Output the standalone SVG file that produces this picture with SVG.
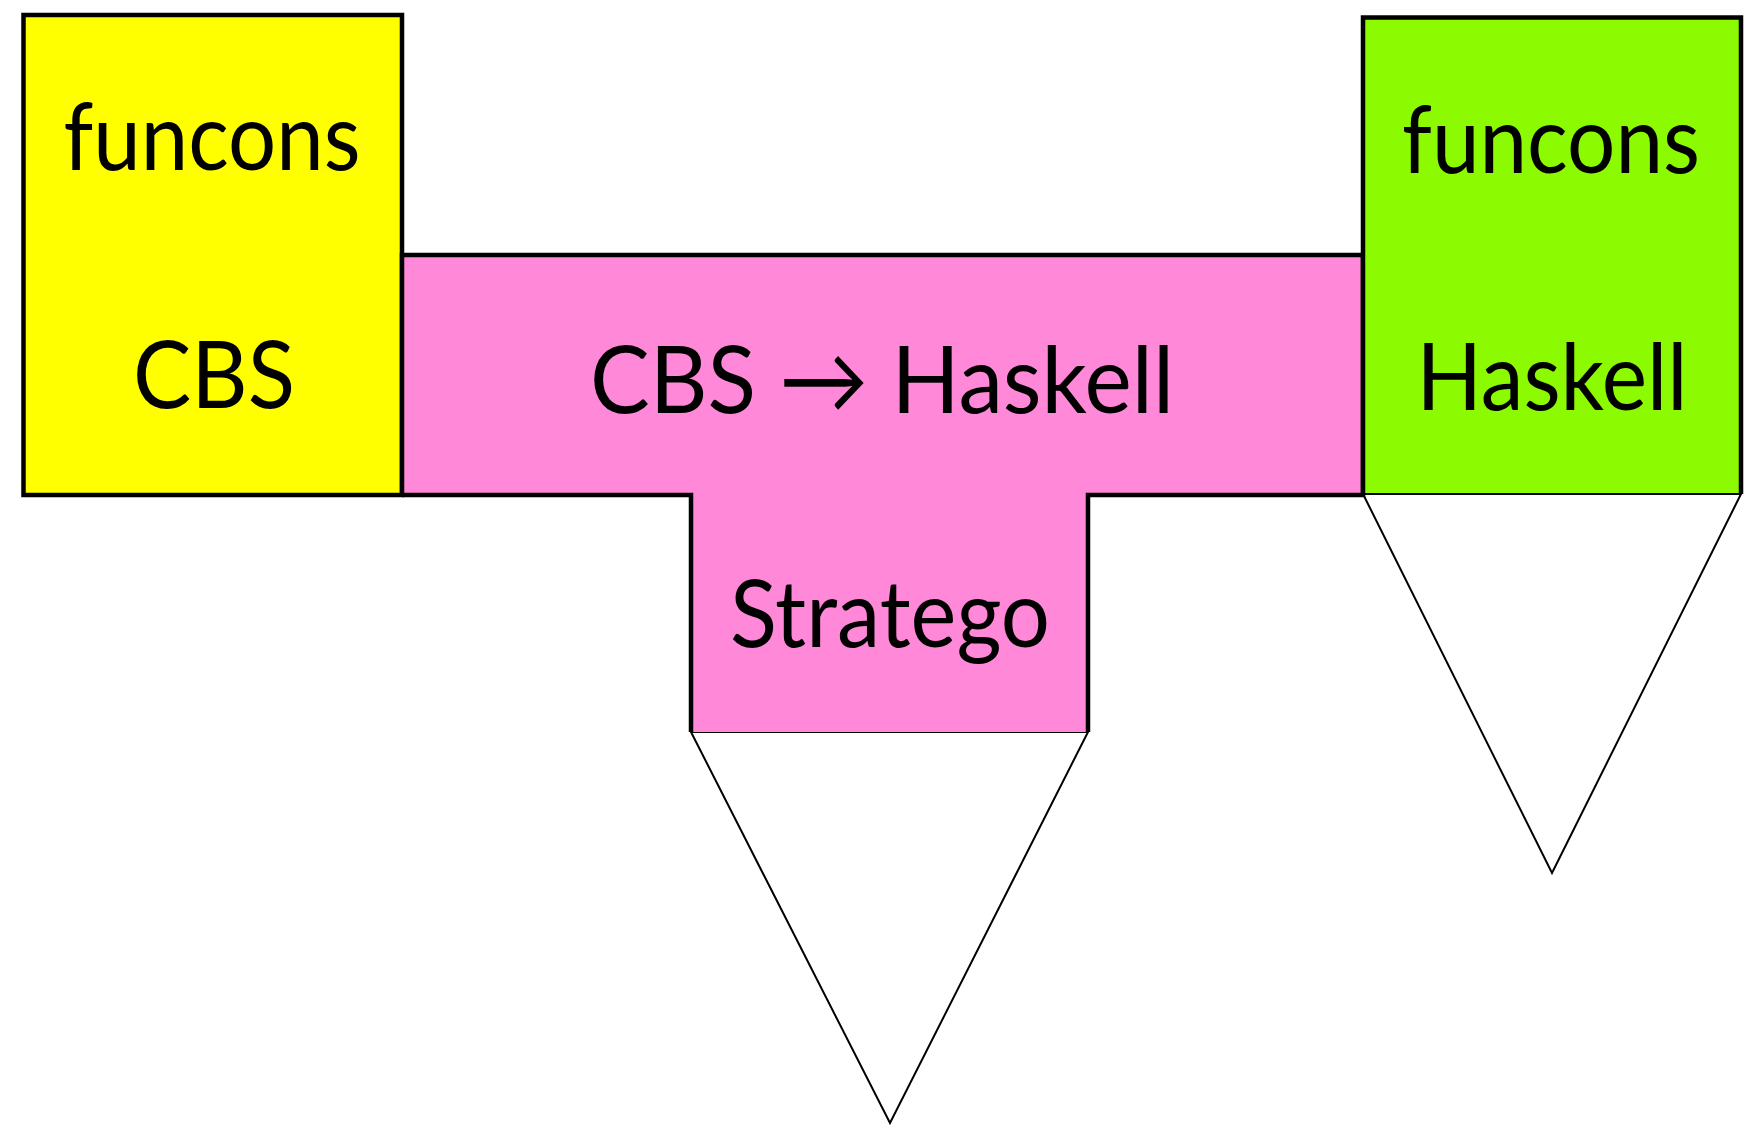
<svg xmlns="http://www.w3.org/2000/svg" width="1758" height="1125" viewBox="0 0 1758 1125">
<style>
.lbl{font-family:"Lato","Open Sans","DejaVu Sans",sans-serif;font-size:94px;fill:#000;text-anchor:middle}
.box{stroke:#000;stroke-width:4.5;stroke-linejoin:miter}
.tri{fill:#fff;stroke:#000;stroke-width:2}
</style>
<rect width="1758" height="1125" fill="#fff"/>
<g id="connectors">
<polygon class="tri" points="691,732 1088,732 890,1123"/>
<polygon class="tri" points="1363,494 1741,494 1552,873"/>
</g>
<g id="yellow">
<rect class="box" x="23.5" y="15" width="378.5" height="480" fill="#ffff00"/>
<text class="lbl" x="212" y="170" textLength="297" lengthAdjust="spacingAndGlyphs">funcons</text>
<text class="lbl" x="214" y="408" textLength="162" lengthAdjust="spacingAndGlyphs">CBS</text>
</g>
<g id="pink">
<path d="M402,495 L402,255 L1363,255 L1363,495 L1088,495 L1088,732 L691,732 L691,495 Z" fill="#ff88d8" stroke="none"/>
<path class="box" fill="none" d="M402,495 L402,255 L1363,255 L1363,495 L1088,495 L1088,732 M691,732 L691,495 L402,495"/>
<text class="lbl" x="882" y="413" textLength="584" lengthAdjust="spacingAndGlyphs">CBS → Haskell</text>
<text class="lbl" x="890" y="647" textLength="320" lengthAdjust="spacingAndGlyphs">Stratego</text>
</g>
<g id="green">
<path d="M1363,494 L1363,17.5 L1741,17.5 L1741,494 Z" fill="#8cfa00" stroke="none"/>
<path class="box" fill="none" d="M1363,494 L1363,17.5 L1741,17.5 L1741,494"/>
<line x1="1363" y1="494" x2="1741" y2="494" stroke="#000" stroke-width="2"/>
<text class="lbl" x="1551" y="173" textLength="298" lengthAdjust="spacingAndGlyphs">funcons</text>
<text class="lbl" x="1552" y="410" textLength="271" lengthAdjust="spacingAndGlyphs">Haskell</text>
</g>
</svg>
